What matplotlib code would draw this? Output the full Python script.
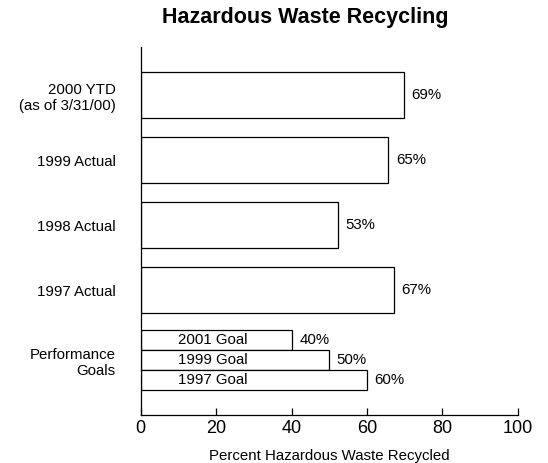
import matplotlib
matplotlib.use("Agg")
import matplotlib.pyplot as plt

plt.rcParams['font.family'] = ['Liberation Sans', 'DejaVu Sans']

# Data
categories = ["2000 YTD\n(as of 3/31/00)", "1999 Actual", "1998 Actual", "1997 Actual"]
actual_values = [69.8, 65.7, 52.3, 67.1]
actual_labels = ["69%", "65%", "53%", "67%"]

goal_names = ["2001 Goal", "1999 Goal", "1997 Goal"]
goal_values = [40, 50, 60]
goal_labels = ["40%", "50%", "60%"]
goal_group_label = "Performance\nGoals"

x_ticks = [0, 20, 40, 60, 80, 100]
title = "Hazardous Waste Recycling"
xlabel = "Percent Hazardous Waste Recycled"

# Layout
actual_pos = [4, 3, 2, 1]
goal_pos = [0.23, -0.077, -0.385]
goal_group_pos = -0.08

fig = plt.figure(figsize=(5.48, 4.63), dpi=100)
ax = fig.add_axes([140.7 / 548, 1 - 415 / 463, 377 / 548, 368 / 463])

ax.barh(actual_pos, actual_values, height=0.70, color="white",
        edgecolor="black", linewidth=0.9)
ax.barh(goal_pos, goal_values, height=0.308, color="white",
        edgecolor="black", linewidth=0.9)

for y, v, lab in zip(actual_pos, actual_values, actual_labels):
    ax.annotate(lab, (v, y), xytext=(5.5, 0), textcoords="offset points",
                ha="left", va="center", fontsize=10.8)
for y, v, lab, name in zip(goal_pos, goal_values, goal_labels, goal_names):
    ax.annotate(lab, (v, y), xytext=(5.5, 0), textcoords="offset points",
                ha="left", va="center", fontsize=10.8)
    ax.text(10, y, name, ha="left", va="center", fontsize=10.8)

ax.set_yticks(actual_pos + [goal_group_pos])
ax.set_yticklabels(categories + [goal_group_label], fontsize=10.8, ha="right")
ax.tick_params(axis="y", length=0, pad=18)

ax.set_xlim(0, 100)
ax.set_ylim(-0.92, 4.74)
ax.set_xticks(x_ticks)
ax.set_xticklabels([str(t) for t in x_ticks], fontsize=13)
ax.tick_params(axis="x", direction="in", length=5, width=0.9, pad=3.5)

for s in ["top", "right"]:
    ax.spines[s].set_visible(False)
for s in ["left", "bottom"]:
    ax.spines[s].set_linewidth(0.9)

ax.set_xlabel(xlabel, fontsize=10.8, labelpad=9)
fig.text(305 / 548, 1 - 18 / 463, title, ha="center", va="center",
         fontsize=15.5, fontweight="bold")

fig.savefig("out.png", dpi=100)
